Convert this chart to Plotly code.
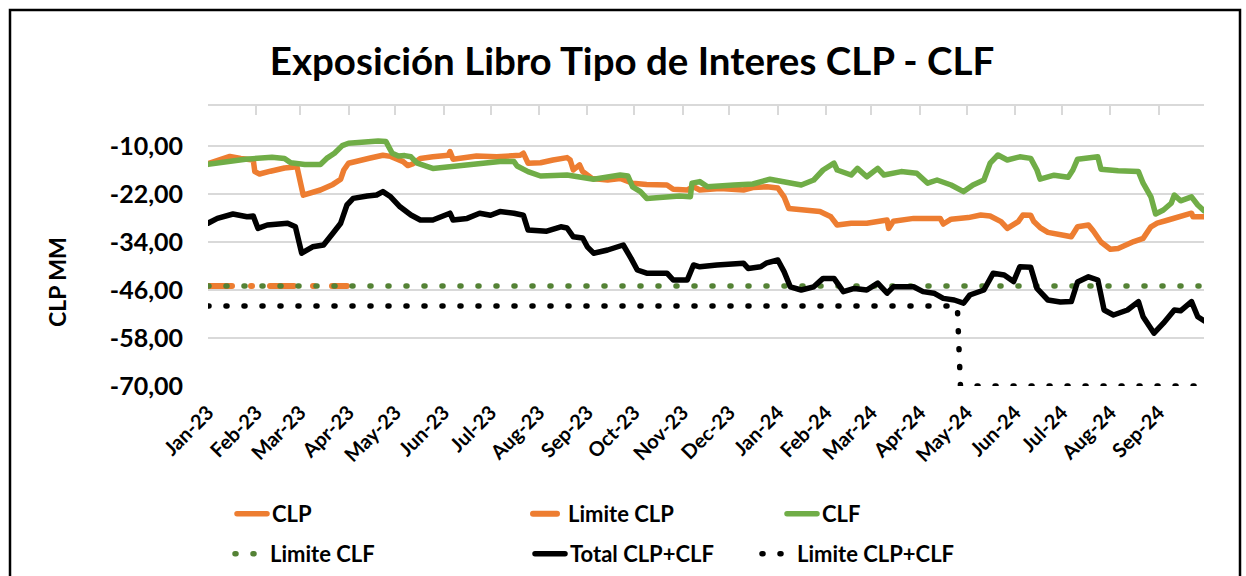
import plotly.graph_objects as go

W, H = 1246, 576
PL, PR, PT, PB = 208, 1204, 106, 386  # plot-area edges in px

# ---------------- data ----------------
month_ticks = ["2023-01-01", "2023-02-01", "2023-03-01", "2023-04-01", "2023-05-01",
               "2023-06-01", "2023-07-01", "2023-08-01", "2023-09-01", "2023-10-01",
               "2023-11-01", "2023-12-01", "2024-01-01", "2024-02-01", "2024-03-01",
               "2024-04-01", "2024-05-01", "2024-06-01", "2024-07-01", "2024-08-01",
               "2024-09-01"]
month_labels = ["Jan-23", "Feb-23", "Mar-23", "Apr-23", "May-23", "Jun-23", "Jul-23",
                "Aug-23", "Sep-23", "Oct-23", "Nov-23", "Dec-23", "Jan-24", "Feb-24",
                "Mar-24", "Apr-24", "May-24", "Jun-24", "Jul-24", "Aug-24", "Sep-24"]
y_ticks = [-70, -58, -46, -34, -22, -10]
y_labels = ["-70,00", "-58,00", "-46,00", "-34,00", "-22,00", "-10,00"]

clp_dates = ["2023-01-01", "2023-01-07", "2023-01-15", "2023-01-22", "2023-01-30", "2023-01-31",
             "2023-02-03", "2023-02-10", "2023-02-19", "2023-02-27", "2023-03-01", "2023-03-03",
             "2023-03-14", "2023-03-22", "2023-03-27", "2023-03-29", "2023-04-01", "2023-04-08",
             "2023-04-15", "2023-04-23", "2023-04-28", "2023-05-06", "2023-05-09", "2023-05-12",
             "2023-05-17", "2023-05-25", "2023-06-04", "2023-06-05", "2023-06-07", "2023-06-22",
             "2023-07-05", "2023-07-20", "2023-07-22", "2023-07-25", "2023-08-02", "2023-08-10",
             "2023-08-19", "2023-08-21", "2023-08-23", "2023-08-27", "2023-08-29", "2023-09-04",
             "2023-09-14", "2023-09-22", "2023-09-30", "2023-10-09", "2023-10-22", "2023-10-26",
             "2023-11-04", "2023-11-08", "2023-11-12", "2023-11-25", "2023-12-10", "2023-12-16",
             "2023-12-25", "2024-01-01", "2024-01-05", "2024-01-08", "2024-01-16", "2024-01-28",
             "2024-02-04", "2024-02-08", "2024-02-17", "2024-02-27", "2024-03-11", "2024-03-12",
             "2024-03-15", "2024-03-28", "2024-04-14", "2024-04-16", "2024-04-21", "2024-05-02",
             "2024-05-10", "2024-05-16", "2024-05-23", "2024-05-27", "2024-06-03", "2024-06-06",
             "2024-06-11", "2024-06-13", "2024-06-17", "2024-06-22", "2024-07-02", "2024-07-07",
             "2024-07-11", "2024-07-18", "2024-07-21", "2024-07-26", "2024-08-01", "2024-08-06",
             "2024-08-16", "2024-08-22", "2024-08-27", "2024-08-31", "2024-09-07", "2024-09-15",
             "2024-09-22", "2024-09-23", "2024-09-30"]
clp_values = [-14.4, -13.5, -12.6, -13.1, -13.5, -16.4,
              -17.0, -16.3, -15.5, -15.2, -19.0, -22.3,
              -21.0, -19.6, -18.3, -16.0, -14.3, -13.5,
              -13.0, -12.3, -12.6, -13.9, -14.9, -14.5,
              -13.1, -12.7, -12.3, -11.4, -13.3, -12.5,
              -12.7, -12.3, -11.8, -14.3, -14.2, -13.5,
              -12.9, -13.5, -16.0, -14.7, -16.4, -18.1,
              -18.5, -18.1, -19.3, -19.6, -19.75, -20.8,
              -21.0, -20.2, -21.0, -20.6, -21.0, -20.4,
              -20.2, -20.5, -22.7, -25.6, -26.0, -26.4,
              -27.7, -29.75, -29.3, -29.3, -28.5, -30.6,
              -28.8, -28.1, -28.1, -29.5, -28.3, -27.9,
              -27.25, -27.5, -28.9, -30.6, -28.9, -27.25,
              -27.3, -28.9, -30.4, -31.6, -32.3, -32.7,
              -30.2, -29.75, -31.2, -34.0, -35.8, -35.6,
              -33.9, -33.1, -30.2, -29.3, -28.5, -27.7,
              -26.8, -27.7, -27.7]

clf_dates = ["2023-01-01", "2023-01-12", "2023-01-25", "2023-02-11", "2023-02-19", "2023-02-23",
             "2023-03-04", "2023-03-14", "2023-03-18", "2023-03-23", "2023-03-28", "2023-04-01",
             "2023-04-10", "2023-04-20", "2023-04-25", "2023-04-29", "2023-05-03", "2023-05-07",
             "2023-05-11", "2023-05-15", "2023-05-25", "2023-06-16", "2023-07-07", "2023-07-16",
             "2023-07-18", "2023-07-25", "2023-08-02", "2023-08-19", "2023-09-01", "2023-09-05",
             "2023-09-22", "2023-09-27", "2023-09-30", "2023-10-05", "2023-10-09", "2023-10-18",
             "2023-10-30", "2023-11-06", "2023-11-07", "2023-11-12", "2023-11-17", "2023-12-04",
             "2023-12-16", "2023-12-27", "2024-01-05", "2024-01-16", "2024-01-24", "2024-01-30",
             "2024-02-06", "2024-02-08", "2024-02-17", "2024-02-21", "2024-02-27", "2024-03-05",
             "2024-03-09", "2024-03-20", "2024-03-30", "2024-04-06", "2024-04-12", "2024-04-21",
             "2024-04-29", "2024-05-05", "2024-05-12", "2024-05-16", "2024-05-21", "2024-05-27",
             "2024-06-04", "2024-06-11", "2024-06-15", "2024-06-17", "2024-06-26", "2024-07-05",
             "2024-07-08", "2024-07-11", "2024-07-24", "2024-07-26", "2024-08-06", "2024-08-19",
             "2024-08-22", "2024-08-27", "2024-08-30", "2024-09-04", "2024-09-09", "2024-09-11",
             "2024-09-15", "2024-09-22", "2024-09-26", "2024-09-30"]
clf_values = [-14.6, -13.9, -13.3, -12.8, -13.1, -14.2,
              -14.6, -14.6, -13.1, -11.8, -9.9, -9.3,
              -8.9, -8.75, -8.9, -11.8, -12.5, -12.4,
              -12.7, -14.3, -15.6, -14.75, -13.9, -13.9,
              -15.0, -16.4, -17.5, -17.25, -17.8, -18.3,
              -17.25, -17.5, -20.2, -21.4, -23.1, -22.7,
              -22.5, -22.7, -19.3, -18.9, -20.2, -19.75,
              -19.5, -18.3, -18.9, -19.75, -18.5, -16.0,
              -14.3, -16.0, -17.25, -15.6, -17.7, -15.6,
              -17.25, -16.4, -16.8, -19.3, -18.5, -19.75,
              -21.4, -19.75, -18.5, -14.3, -12.25, -13.5,
              -12.7, -13.1, -16.0, -18.3, -17.3, -17.8,
              -16.0, -13.3, -12.7, -15.8, -16.2, -16.4,
              -19.3, -22.7, -27.0, -26.0, -24.3, -22.25,
              -23.7, -22.7, -24.75, -26.2]

total_dates = ["2023-01-01", "2023-01-07", "2023-01-17", "2023-01-26", "2023-01-30", "2023-02-02",
               "2023-02-08", "2023-02-21", "2023-02-26", "2023-03-02", "2023-03-09", "2023-03-16",
               "2023-03-22", "2023-03-27", "2023-03-31", "2023-04-04", "2023-04-13", "2023-04-19",
               "2023-04-23", "2023-04-28", "2023-05-04", "2023-05-11", "2023-05-17", "2023-05-25",
               "2023-06-05", "2023-06-07", "2023-06-16", "2023-06-24", "2023-07-01", "2023-07-07",
               "2023-07-16", "2023-07-22", "2023-07-25", "2023-08-02", "2023-08-06", "2023-08-15",
               "2023-08-19", "2023-08-23", "2023-08-29", "2023-09-01", "2023-09-05", "2023-09-14",
               "2023-09-24", "2023-09-29", "2023-10-03", "2023-10-09", "2023-10-22", "2023-10-26",
               "2023-11-04", "2023-11-08", "2023-11-12", "2023-11-23", "2023-12-04", "2023-12-10",
               "2023-12-13", "2023-12-21", "2023-12-25", "2024-01-01", "2024-01-05", "2024-01-09",
               "2024-01-16", "2024-01-24", "2024-01-30", "2024-02-06", "2024-02-12", "2024-02-19",
               "2024-02-27", "2024-03-05", "2024-03-11", "2024-03-15", "2024-03-28", "2024-04-03",
               "2024-04-10", "2024-04-16", "2024-04-23", "2024-04-29", "2024-05-03", "2024-05-12",
               "2024-05-18", "2024-05-25", "2024-05-31", "2024-06-04", "2024-06-11", "2024-06-15",
               "2024-06-22", "2024-06-30", "2024-07-07", "2024-07-11", "2024-07-18", "2024-07-24",
               "2024-07-28", "2024-08-03", "2024-08-12", "2024-08-19", "2024-08-22", "2024-08-29",
               "2024-09-04", "2024-09-11", "2024-09-15", "2024-09-22", "2024-09-26", "2024-09-30"]
total_values = [-29.3, -28.1, -27.0, -27.7, -27.5, -30.6,
                -29.75, -29.3, -30.2, -36.8, -35.2, -34.75,
                -31.8, -29.3, -24.75, -23.1, -22.5, -22.25,
                -21.4, -22.7, -25.2, -27.25, -28.5, -28.5,
                -26.8, -28.5, -28.1, -26.8, -27.3, -26.4,
                -26.8, -27.3, -31.0, -31.0, -31.3, -30.2,
                -30.5, -32.7, -33.0, -35.2, -36.8, -36.0,
                -34.75, -38.1, -41.0, -41.8, -41.8, -43.5,
                -43.5, -39.75, -40.2, -39.75, -39.5, -39.3,
                -40.6, -40.2, -39.2, -38.5, -41.4, -45.2,
                -46.0, -45.2, -43.1, -43.1, -46.4, -45.6,
                -46.0, -44.3, -46.8, -45.2, -45.2, -46.4,
                -46.8, -48.1, -48.5, -49.3, -47.25, -46.0,
                -41.8, -42.25, -43.9, -40.2, -40.3, -45.6,
                -48.5, -49.0, -48.9, -44.0, -42.7, -43.5,
                -51.0, -52.25, -51.0, -48.9, -52.7, -56.8,
                -54.3, -51.0, -51.2, -48.9, -52.7, -53.7]

lim_clp_dates = ["2023-01-01", "2023-03-31"]
lim_clp_values = [-45, -45]
lim_clf_dates = ["2023-01-01", "2024-09-30"]
lim_clf_values = [-45, -45]
lim_total_dates = ["2023-01-01", "2024-04-25", "2024-04-27", "2024-09-30"]
lim_total_values = [-50, -50, -70, -70]

# ---------------- styling ----------------
ORANGE = "#ED7D31"
GREEN = "#70AD47"
DKGREEN = "#548235"
BLACK = "#000000"
GRID = "#D9D9D9"
FONT = "Lato"


def px_x(px):
    return (px - PL) / (PR - PL)


def px_y(py):
    return (PB - py) / (PB - PT)


fig = go.Figure()
fig.add_trace(go.Scatter(x=clp_dates, y=clp_values, name="CLP", mode="lines",
                         line=dict(color=ORANGE, width=5.5), legend="legend", legendwidth=251))
fig.add_trace(go.Scatter(x=lim_clp_dates, y=lim_clp_values, name="Limite CLP", mode="lines",
                         line=dict(color=ORANGE, width=6, dash="24px,19px,1px,18px"),
                         legend="legend", legendwidth=209))
fig.add_trace(go.Scatter(x=clf_dates, y=clf_values, name="CLF", mode="lines",
                         line=dict(color=GREEN, width=5.5), legend="legend", legendwidth=100))
fig.add_trace(go.Scatter(x=lim_clf_dates, y=lim_clf_values, name="Limite CLF", mode="lines",
                         line=dict(color=DKGREEN, width=5.5, dash="1px,17px"),
                         legend="legend2", legendwidth=255))
fig.add_trace(go.Scatter(x=total_dates, y=total_values, name="Total CLP+CLF", mode="lines",
                         line=dict(color=BLACK, width=5.5), legend="legend2", legendwidth=182))
fig.add_trace(go.Scatter(x=lim_total_dates, y=lim_total_values, name="Limite CLP+CLF",
                         mode="lines", xaxis="x2",
                         line=dict(color=BLACK, width=5.5, dash="1px,17px"),
                         legend="legend2", legendwidth=200))

legend_font = dict(family=FONT, size=22, color="#000000", weight="bold")

fig.update_layout(
    width=W, height=H,
    margin=dict(l=PL, r=W - PR, t=PT, b=H - PB, autoexpand=False),
    paper_bgcolor="white", plot_bgcolor="white",
    showlegend=True,
    title=dict(text="Exposición Libro Tipo de Interes CLP - CLF",
               font=dict(family=FONT, size=38.5, color="#000000", weight="bold"),
               x=632 / W, xanchor="center", xref="container",
               y=1 - 62 / H, yanchor="middle", yref="container"),
    xaxis=dict(type="date", range=["2023-01-01", "2024-09-30"],
               tickvals=month_ticks, ticktext=month_labels, tickangle=-45,
               tickfont=dict(family=FONT, size=20, color="#000000", weight="bold"),
               ticks="", showline=False, showgrid=False, zeroline=False,
               ticklabelstandoff=10, automargin=False),
    xaxis2=dict(type="date", overlaying="x", matches="x", side="top", anchor="y",
                tickvals=month_ticks, showticklabels=False, ticks="inside", ticklen=9,
                tickwidth=2, tickcolor=GRID, showline=True, linecolor=GRID, linewidth=2,
                showgrid=False, zeroline=False, automargin=False),
    yaxis=dict(range=[-70, 0], tickvals=y_ticks, ticktext=y_labels,
               tickfont=dict(family=FONT, size=25, color="#000000", weight="bold"),
               showgrid=True, gridcolor=GRID, gridwidth=2, zeroline=False,
               showline=False, ticks="", ticklabelstandoff=24, automargin=False),
    legend=dict(orientation="h", xref="container", yref="container",
                x=232 / W, xanchor="left", y=1 - 493 / H, yanchor="top",
                font=legend_font, itemwidth=30, bgcolor="rgba(0,0,0,0)"),
    legend2=dict(orientation="h", xref="container", yref="container",
                 x=230 / W, xanchor="left", y=1 - 533 / H, yanchor="top",
                 font=legend_font, itemwidth=30, bgcolor="rgba(0,0,0,0)"),
    annotations=[dict(text="CLP MM", textangle=-90, showarrow=False,
                      xref="paper", yref="paper", x=px_x(57), y=px_y(282),
                      xanchor="center", yanchor="middle",
                      font=dict(family=FONT, size=23, color="#000000", weight="bold"))],
    shapes=[dict(type="rect", xref="paper", yref="paper",
                 x0=px_x(10), x1=px_x(1240), y0=px_y(620), y1=px_y(10),
                 line=dict(color="#000000", width=2.5), fillcolor="rgba(0,0,0,0)",
                 layer="below")],
)

post = ("var s=document.createElement('style');"
        "s.innerHTML='body{margin:0;}.js-line{stroke-linecap:round;stroke-linejoin:round;}';"
        "document.head.appendChild(s);")
fig.write_html("out.html", config={"displayModeBar": False}, post_script=post)
